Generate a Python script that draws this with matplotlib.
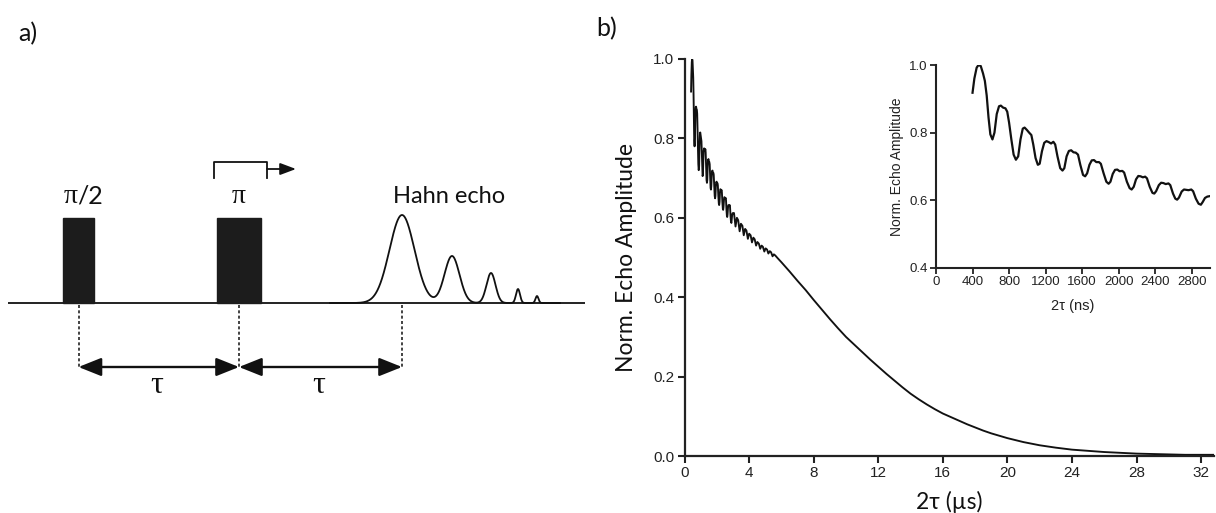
import numpy as np
import matplotlib
matplotlib.use("Agg")
import matplotlib.pyplot as plt
from matplotlib.patches import Rectangle

# ---------------- data ----------------
# inset: Hahn echo decay, 2tau in ns
inset_t_ns = [400, 420, 445, 465, 490, 515, 535, 555, 575, 595, 618, 640, 665, 690, 710, 735, 760, 780,
              800, 825, 850, 875, 900, 925, 950, 970, 995, 1020, 1044, 1065, 1090, 1115, 1135, 1160,
              1185, 1210, 1235, 1260, 1285, 1305, 1330, 1360, 1385, 1405, 1430, 1455, 1480, 1505, 1530,
              1555, 1580, 1610, 1633, 1655, 1680, 1705, 1730, 1755, 1785, 1805, 1835, 1865, 1890, 1910,
              1935, 1960, 1985, 2010, 2040, 2060, 2090, 2120, 2142, 2165, 2190, 2215, 2240, 2265, 2290,
              2310, 2340, 2370, 2390, 2410, 2440, 2465, 2490, 2515, 2545, 2565, 2595, 2620, 2640, 2660,
              2690, 2715, 2740, 2765, 2795, 2815, 2845, 2875, 2900, 2920, 2945, 2970, 2990]
inset_amp = [0.918, 0.960, 0.992, 1.000, 0.997, 0.975, 0.953, 0.910, 0.845, 0.795, 0.780, 0.800, 0.855,
             0.878, 0.880, 0.874, 0.872, 0.862, 0.830, 0.780, 0.735, 0.720, 0.730, 0.780, 0.812, 0.815,
             0.808, 0.800, 0.793, 0.765, 0.725, 0.705, 0.708, 0.745, 0.770, 0.775, 0.772, 0.768, 0.773,
             0.765, 0.730, 0.695, 0.688, 0.695, 0.730, 0.746, 0.748, 0.742, 0.741, 0.735, 0.705, 0.675,
             0.671, 0.680, 0.705, 0.718, 0.719, 0.713, 0.713, 0.708, 0.680, 0.655, 0.649, 0.655, 0.678,
             0.690, 0.691, 0.686, 0.687, 0.682, 0.655, 0.636, 0.632, 0.640, 0.662, 0.672, 0.671, 0.668,
             0.670, 0.665, 0.640, 0.622, 0.620, 0.627, 0.645, 0.652, 0.651, 0.648, 0.650, 0.645, 0.620,
             0.605, 0.602, 0.608, 0.626, 0.632, 0.631, 0.630, 0.632, 0.627, 0.605, 0.590, 0.587, 0.595,
             0.607, 0.611, 0.612]

# main plot continuation beyond the inset window, 2tau in us
tail_t_us = [3.06, 3.155, 3.24, 3.32, 3.41, 3.49, 3.58, 3.665, 3.75, 3.83, 3.92, 4.0, 4.09, 4.175, 4.26,
             4.34, 4.43, 4.51, 4.60, 4.685, 4.77, 4.85, 4.94, 5.02, 5.11, 5.19, 5.28, 5.36, 5.45, 5.53,
             5.62, 5.75, 6.0, 6.5, 7.0, 7.5, 8.0, 8.5, 9.0,
             9.5, 10.0, 10.5, 11.0, 11.5, 12.0, 12.5, 13.0, 13.5, 14.0, 14.5, 15.0, 15.5, 16.0, 16.5, 17.0,
             17.5, 18.0, 18.5, 19.0, 19.5, 20.0, 21.0, 22.0, 23.0, 24.0, 25.0, 26.0, 27.0, 28.0, 29.0,
             30.0, 31.0, 32.0, 32.8]
tail_amp = [0.612, 0.578, 0.600, 0.594, 0.566, 0.585, 0.580, 0.556, 0.572, 0.568, 0.547, 0.560, 0.556,
            0.538, 0.550, 0.546, 0.530, 0.539, 0.535, 0.522, 0.530, 0.527, 0.515, 0.523, 0.520, 0.510,
            0.516, 0.513, 0.503, 0.508, 0.505, 0.499, 0.488,
            0.465, 0.441, 0.418, 0.393, 0.369, 0.345, 0.322, 0.300, 0.281, 0.262, 0.243, 0.225, 0.207,
            0.190, 0.173, 0.157, 0.143, 0.130, 0.118, 0.107, 0.098, 0.089, 0.080, 0.072, 0.064, 0.057,
            0.051, 0.045, 0.035, 0.027, 0.021, 0.016, 0.013, 0.010, 0.008, 0.006, 0.005, 0.004, 0.003,
            0.003, 0.003]

main_xticks = [0, 4, 8, 12, 16, 20, 24, 28, 32]
main_yticks = [0.0, 0.2, 0.4, 0.6, 0.8, 1.0]
inset_xticks = [0, 400, 800, 1200, 1600, 2000, 2400, 2800]
inset_yticks = [0.4, 0.6, 0.8, 1.0]

# schematic (panel a), in panel pixel units
pulse_left = [63, 217]
pulse_right = [94, 261]
echo_centers = [402, 452, 491, 518, 537]
echo_heights = [88, 47, 30, 14, 7]
echo_widths = [12.5, 7.5, 4.5, 2.0, 1.5]

# ---------------- figure ----------------
fig = plt.figure(figsize=(12.16, 5.13), dpi=100)
fig.patch.set_facecolor("white")

LAB = ["Lato", "Liberation Serif", "DejaVu Sans"]
TICK = ["Liberation Sans", "DejaVu Sans"]

# ----- panel a -----
axa = fig.add_axes([0, 0, 600 / 1216, 1])
axa.set_xlim(0, 600)
axa.set_ylim(513, 0)
axa.axis("off")

base_y = 303
pulse_top = 218
axa.plot([8, 585], [base_y, base_y], color="#111111", lw=1.3, solid_capstyle="butt", zorder=2)
for l, r in zip(pulse_left, pulse_right):
    axa.add_patch(Rectangle((l, pulse_top), r - l, base_y - pulse_top, facecolor="#1c1c1c",
                            edgecolor="#1c1c1c", zorder=3))
xe = np.linspace(330, 560, 1200)
ye = np.zeros_like(xe)
for c, h, w in zip(echo_centers, echo_heights, echo_widths):
    ye += h * np.exp(-0.5 * ((xe - c) / w) ** 2)
axa.plot(xe, base_y - ye, color="#111111", lw=1.3, zorder=3)

centers = [(pulse_left[0] + pulse_right[0]) / 2, (pulse_left[1] + pulse_right[1]) / 2, echo_centers[0]]
for cx in centers:
    axa.plot([cx, cx], [base_y + 2, 368], color="#222222", lw=1.2, ls=(0, (1.8, 1.4)), zorder=2)
for x0, x1 in [(centers[0], centers[1]), (centers[1], centers[2])]:
    axa.annotate("", xy=(x1, 367), xytext=(x0, 367),
                 arrowprops=dict(arrowstyle="<|-|>,head_length=1.0,head_width=0.4", color="#111111",
                                 lw=1.7, shrinkA=0, shrinkB=0, mutation_scale=14))
    axa.text((x0 + x1) / 2 - 2, 393, "\u03c4", family=["Liberation Serif"], fontsize=23,
             ha="center", va="baseline", color="#111111")

# pulse labels
axa.text(centers[0] - 1, 203, "\u03c0", family=["Liberation Serif"], fontsize=20, ha="right",
         va="baseline", color="#111111")
axa.text(centers[0] - 1, 203, "/2", family=LAB, fontsize=18, ha="left", va="baseline", color="#111111")
axa.text(centers[1], 203, "\u03c0", family=["Liberation Serif"], fontsize=20, ha="center",
         va="baseline", color="#111111")
axa.text(449, 203, "Hahn echo", family=LAB, fontsize=17, ha="center", va="baseline", color="#111111")
# bracket with arrow above pi pulse
axa.plot([214, 214, 267, 267], [178, 162, 162, 178], color="#111111", lw=1.3, zorder=3)
axa.annotate("", xy=(296, 169), xytext=(267, 169),
             arrowprops=dict(arrowstyle="-|>,head_length=0.8,head_width=0.3", color="#111111",
                             lw=1.3, shrinkA=0, shrinkB=0, mutation_scale=12))
axa.text(18, 41, "a)", family=LAB, fontsize=18, ha="left", va="baseline", color="#111111")

# ----- panel b main -----
fig.text(596 / 1216, 1 - 36 / 513, "b)", family=LAB, fontsize=18, ha="left", va="baseline",
         color="#111111")

main_t = [t / 1000 for t in inset_t_ns] + tail_t_us
main_a = inset_amp + tail_amp

ax = fig.add_axes([684.6 / 1216, 57 / 513, 529.4 / 1216, 397 / 513])
ax.plot(main_t, main_a, color="#111111", lw=1.35)
ax.set_xlim(0, 32.8)
ax.set_ylim(0, 1.0)
ax.set_xticks(main_xticks)
ax.set_yticks(main_yticks)
ax.set_yticklabels([f"{v:.1f}" for v in main_yticks])
for s in ["top", "right"]:
    ax.spines[s].set_visible(False)
for s in ["left", "bottom"]:
    ax.spines[s].set_linewidth(1.6)
    ax.spines[s].set_color("#222222")
ax.tick_params(direction="out", length=5, width=1.5, color="#222222", labelsize=11, pad=2.5,
               labelcolor="#222222")
for lbl in ax.get_xticklabels() + ax.get_yticklabels():
    lbl.set_family(TICK)
ax.set_ylabel("Norm. Echo Amplitude", family=LAB, fontsize=16.5, color="#111111")
ax.yaxis.set_label_coords(-0.109, 0.5)
ax.yaxis.label.set_va("center")
ax.set_xlabel("2\u03c4 (\u00b5s)", family=LAB, fontsize=16.5, color="#111111")
ax.xaxis.set_label_coords(0.5, -0.116)
ax.xaxis.label.set_va("center")
ax.set_facecolor("none")

# ----- inset -----
axi = fig.add_axes([936 / 1216, 245 / 513, 274 / 1216, 203 / 513])
axi.plot(inset_t_ns, inset_amp, color="#111111", lw=1.6)
axi.set_xlim(0, 3000)
axi.set_ylim(0.4, 1.0)
axi.set_xticks(inset_xticks)
axi.set_yticks(inset_yticks)
axi.set_yticklabels([f"{v:.1f}" for v in inset_yticks])
for s in ["top", "right"]:
    axi.spines[s].set_visible(False)
for s in ["left", "bottom"]:
    axi.spines[s].set_linewidth(1.5)
    axi.spines[s].set_color("#222222")
axi.tick_params(direction="out", length=4, width=1.3, color="#222222", labelsize=9.5, pad=2,
                labelcolor="#222222")
for lbl in axi.get_xticklabels() + axi.get_yticklabels():
    lbl.set_family(TICK)
axi.set_ylabel("Norm. Echo Amplitude", family=TICK, fontsize=10, color="#222222")
axi.yaxis.set_label_coords(-0.142, 0.5)
axi.yaxis.label.set_va("center")
axi.set_xlabel("2\u03c4 (ns)", family=TICK, fontsize=10.5, color="#222222")
axi.xaxis.set_label_coords(0.5, -0.187)
axi.xaxis.label.set_va("center")
axi.set_facecolor("none")

fig.savefig("out.png", dpi=100, facecolor="white")
